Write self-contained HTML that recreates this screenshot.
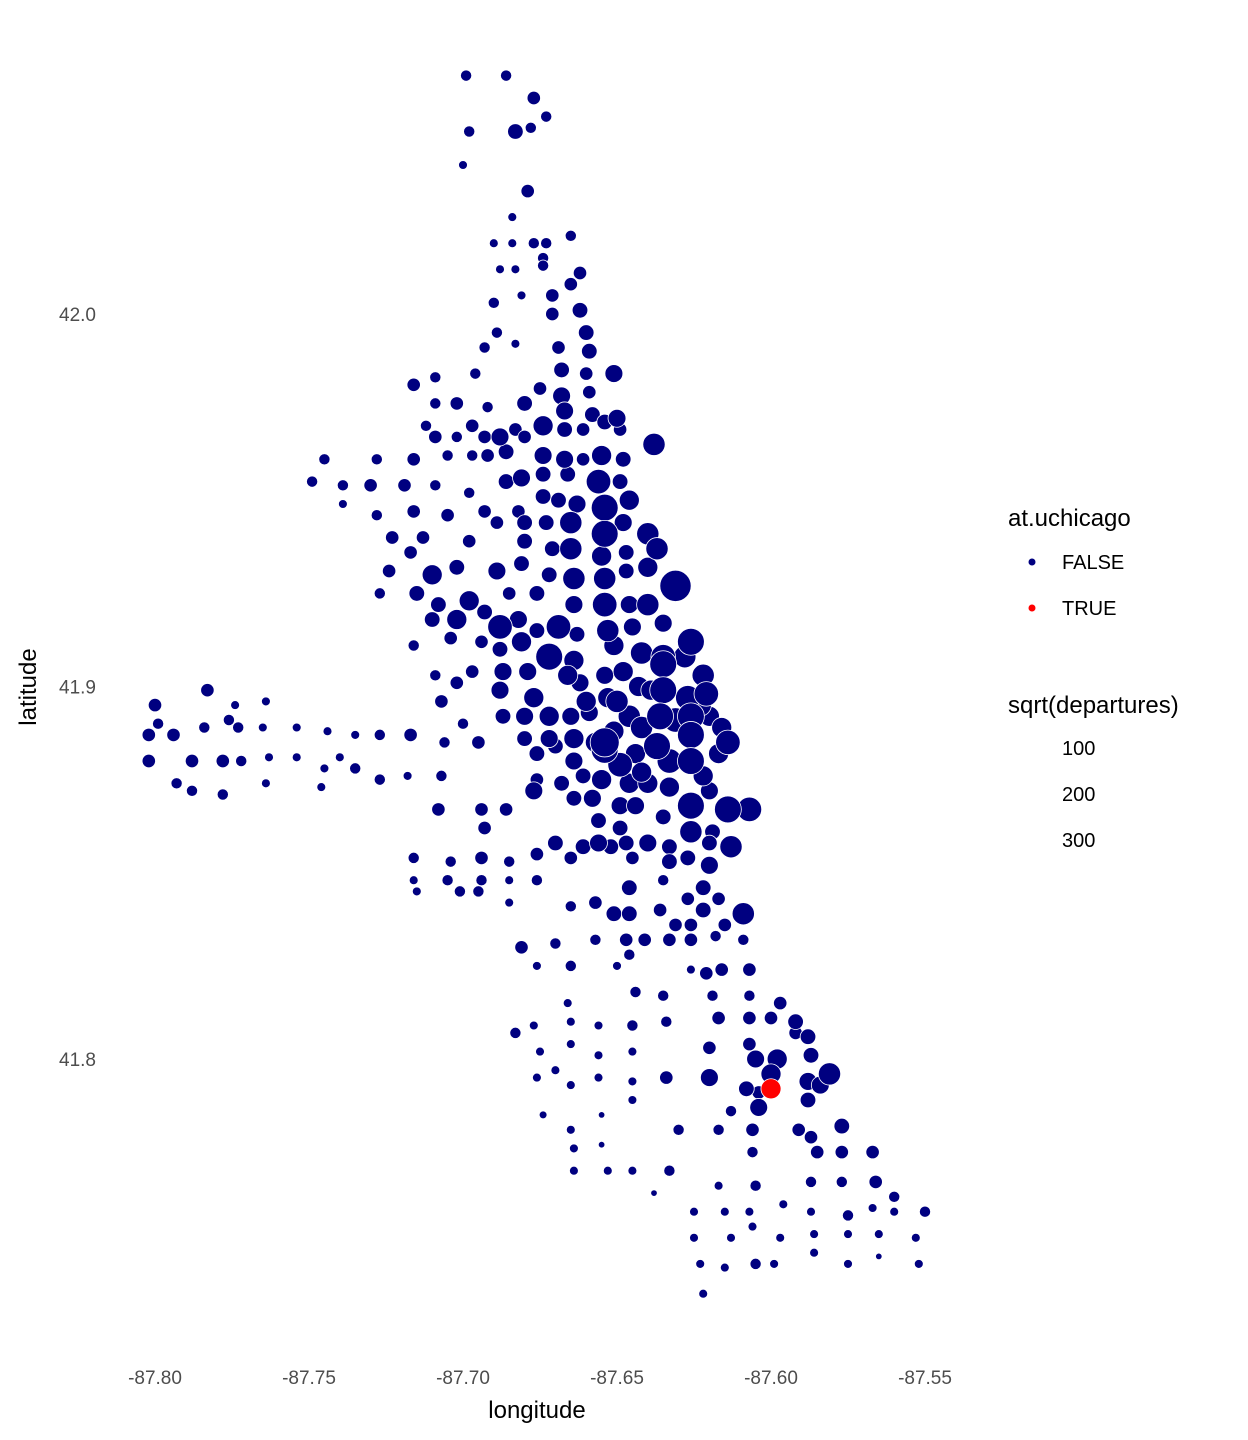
<!DOCTYPE html>
<html><head><meta charset="utf-8">
<style>
html,body{margin:0;padding:0;background:#fff;}
svg{display:block;font-family:"Liberation Sans",Arial,sans-serif;}
</style></head>
<body>
<svg id="chart" width="1248" height="1440" viewBox="0 0 1248 1440" xmlns="http://www.w3.org/2000/svg">
<g id="points"></g>
<g id="xticks"></g>
<g id="yticks"></g>
<text x="537" y="1418" font-size="24" text-anchor="middle" fill="#000">longitude</text>
<text transform="translate(36,687) rotate(-90)" font-size="24" text-anchor="middle" fill="#000">latitude</text>
<g>
<text x="1008" y="526" font-size="24">at.uchicago</text>
<circle cx="1032" cy="562" r="3.5" fill="#000080"/>
<text x="1062" y="569" font-size="20">FALSE</text>
<circle cx="1032" cy="608" r="3.5" fill="#ff0000"/>
<text x="1062" y="615" font-size="20">TRUE</text>
<text x="1008" y="713" font-size="24">sqrt(departures)</text>
<text x="1062" y="755" font-size="20">100</text>
<text x="1062" y="801" font-size="20">200</text>
<text x="1062" y="847" font-size="20">300</text>
</g>
</svg>
<script>
const xTicks = [-87.80, -87.75, -87.70, -87.65, -87.60, -87.55];
const yTicks = [42.0, 41.9, 41.8];
const redStation = [-87.600, 41.792, 112];
const stations = [
[-87.699,42.064,35],[-87.686,42.064,35],[-87.677,42.058,50],[-87.673,42.053,35],[-87.678,42.050,35],[-87.683,42.049,68],[-87.698,42.049,35],[-87.700,42.040,22],[-87.679,42.033,50],[-87.684,42.026,22],
[-87.665,42.021,35],[-87.673,42.019,35],[-87.690,42.019,22],[-87.684,42.019,22],[-87.677,42.019,35],[-87.674,42.015,35],[-87.688,42.012,22],[-87.683,42.012,22],[-87.674,42.013,35],[-87.662,42.011,50],
[-87.665,42.008,50],[-87.671,42.005,50],[-87.690,42.003,35],[-87.681,42.005,22],[-87.662,42.001,68],[-87.671,42.000,50],[-87.689,41.995,35],[-87.660,41.995,68],[-87.669,41.991,50],[-87.693,41.991,35],
[-87.683,41.992,22],[-87.659,41.990,68],[-87.696,41.984,35],[-87.668,41.985,68],[-87.651,41.984,89],[-87.716,41.981,50],[-87.709,41.983,35],[-87.660,41.984,50],[-87.675,41.980,50],[-87.668,41.978,89],
[-87.659,41.979,50],[-87.709,41.976,35],[-87.702,41.976,50],[-87.692,41.975,35],[-87.680,41.976,68],[-87.667,41.974,89],[-87.658,41.973,68],[-87.650,41.972,89],[-87.712,41.970,35],[-87.709,41.967,50],
[-87.702,41.967,35],[-87.697,41.970,50],[-87.693,41.967,50],[-87.688,41.967,89],[-87.683,41.969,50],[-87.680,41.967,50],[-87.674,41.970,112],[-87.667,41.969,68],[-87.661,41.969,50],[-87.654,41.971,68],
[-87.649,41.969,50],[-87.638,41.965,138],[-87.745,41.961,35],[-87.728,41.961,35],[-87.716,41.961,50],[-87.705,41.962,35],[-87.697,41.962,35],[-87.692,41.962,50],[-87.686,41.963,68],[-87.674,41.962,89],
[-87.667,41.961,89],[-87.661,41.961,50],[-87.655,41.962,112],[-87.648,41.961,68],[-87.749,41.955,35],[-87.739,41.954,35],[-87.730,41.954,50],[-87.719,41.954,50],[-87.709,41.954,35],[-87.698,41.952,35],
[-87.686,41.955,68],[-87.681,41.956,89],[-87.674,41.957,68],[-87.666,41.957,68],[-87.656,41.955,167],[-87.649,41.955,68],[-87.739,41.949,22],[-87.728,41.946,35],[-87.716,41.947,50],[-87.705,41.946,50],
[-87.693,41.947,50],[-87.682,41.947,50],[-87.674,41.951,68],[-87.669,41.950,68],[-87.663,41.949,89],[-87.654,41.948,200],[-87.646,41.950,112],[-87.723,41.940,50],[-87.713,41.940,50],[-87.689,41.944,50],
[-87.680,41.944,68],[-87.673,41.944,68],[-87.665,41.944,138],[-87.654,41.941,200],[-87.648,41.944,89],[-87.640,41.941,138],[-87.717,41.936,50],[-87.698,41.939,50],[-87.680,41.939,68],[-87.671,41.937,68],
[-87.665,41.937,138],[-87.655,41.935,112],[-87.647,41.936,68],[-87.637,41.937,138],[-87.724,41.931,50],[-87.710,41.930,112],[-87.702,41.932,68],[-87.689,41.931,89],[-87.681,41.933,68],[-87.672,41.930,68],
[-87.664,41.929,138],[-87.654,41.929,138],[-87.647,41.931,68],[-87.640,41.932,112],[-87.631,41.927,271],[-87.727,41.925,35],[-87.715,41.925,68],[-87.708,41.922,68],[-87.698,41.923,112],[-87.685,41.925,50],
[-87.676,41.925,68],[-87.664,41.922,89],[-87.654,41.922,167],[-87.646,41.922,89],[-87.640,41.922,138],[-87.710,41.918,68],[-87.702,41.918,112],[-87.693,41.920,68],[-87.688,41.916,167],[-87.682,41.918,89],
[-87.676,41.915,68],[-87.669,41.916,167],[-87.663,41.914,68],[-87.653,41.915,138],[-87.645,41.916,89],[-87.635,41.917,89],[-87.626,41.912,200],[-87.716,41.911,35],[-87.704,41.913,50],[-87.694,41.912,50],
[-87.688,41.910,68],[-87.681,41.912,112],[-87.672,41.908,200],[-87.664,41.907,112],[-87.651,41.911,112],[-87.642,41.909,138],[-87.635,41.908,167],[-87.628,41.908,138],[-87.709,41.903,35],[-87.697,41.904,50],
[-87.687,41.904,89],[-87.679,41.904,89],[-87.666,41.903,112],[-87.654,41.903,89],[-87.643,41.900,112],[-87.635,41.906,200],[-87.622,41.903,138],[-87.783,41.899,50],[-87.800,41.895,50],[-87.774,41.895,22],
[-87.764,41.896,22],[-87.702,41.901,50],[-87.688,41.899,89],[-87.677,41.897,112],[-87.662,41.901,89],[-87.653,41.897,112],[-87.635,41.899,200],[-87.627,41.897,167],[-87.621,41.898,167],[-87.707,41.896,50],
[-87.687,41.892,68],[-87.680,41.892,89],[-87.672,41.892,112],[-87.665,41.892,89],[-87.659,41.893,89],[-87.646,41.892,138],[-87.636,41.892,200],[-87.626,41.892,200],[-87.620,41.892,112],[-87.799,41.890,35],
[-87.776,41.891,35],[-87.784,41.889,35],[-87.773,41.889,35],[-87.754,41.889,22],[-87.765,41.889,22],[-87.744,41.888,22],[-87.700,41.890,35],[-87.680,41.886,68],[-87.672,41.886,89],[-87.664,41.886,112],
[-87.654,41.885,234],[-87.637,41.884,200],[-87.626,41.887,200],[-87.614,41.885,167],[-87.802,41.887,50],[-87.794,41.887,50],[-87.735,41.887,22],[-87.727,41.887,35],[-87.717,41.887,50],[-87.706,41.885,35],
[-87.695,41.885,50],[-87.676,41.882,68],[-87.670,41.884,68],[-87.664,41.880,89],[-87.654,41.883,200],[-87.649,41.879,167],[-87.644,41.882,112],[-87.633,41.880,167],[-87.626,41.880,200],[-87.617,41.882,112],
[-87.802,41.880,50],[-87.788,41.880,50],[-87.778,41.880,50],[-87.772,41.880,35],[-87.763,41.881,22],[-87.754,41.881,22],[-87.745,41.878,22],[-87.740,41.881,22],[-87.735,41.878,35],[-87.727,41.875,35],
[-87.718,41.876,22],[-87.707,41.876,35],[-87.676,41.875,50],[-87.668,41.874,68],[-87.661,41.876,68],[-87.655,41.875,112],[-87.646,41.874,112],[-87.640,41.874,112],[-87.633,41.873,112],[-87.620,41.872,89],
[-87.793,41.874,35],[-87.788,41.872,35],[-87.778,41.871,35],[-87.764,41.874,22],[-87.746,41.873,22],[-87.677,41.872,89],[-87.664,41.870,68],[-87.658,41.870,89],[-87.649,41.868,89],[-87.644,41.868,89],
[-87.626,41.868,200],[-87.614,41.867,200],[-87.607,41.867,167],[-87.708,41.867,50],[-87.694,41.867,50],[-87.686,41.867,50],[-87.656,41.864,68],[-87.649,41.862,68],[-87.635,41.865,68],[-87.693,41.862,50],
[-87.626,41.861,138],[-87.619,41.861,68],[-87.670,41.858,68],[-87.661,41.857,68],[-87.656,41.858,89],[-87.652,41.857,68],[-87.647,41.858,68],[-87.640,41.858,89],[-87.633,41.857,68],[-87.620,41.858,68],
[-87.613,41.857,138],[-87.676,41.855,50],[-87.665,41.854,50],[-87.716,41.854,35],[-87.704,41.853,35],[-87.694,41.854,50],[-87.685,41.853,35],[-87.645,41.854,50],[-87.633,41.853,68],[-87.627,41.854,68],
[-87.620,41.852,89],[-87.716,41.848,22],[-87.705,41.848,35],[-87.694,41.848,35],[-87.685,41.848,22],[-87.676,41.848,35],[-87.646,41.846,68],[-87.635,41.848,35],[-87.715,41.845,22],[-87.701,41.845,35],
[-87.695,41.845,35],[-87.622,41.846,68],[-87.685,41.842,22],[-87.657,41.842,50],[-87.627,41.843,50],[-87.617,41.843,50],[-87.665,41.841,35],[-87.651,41.839,68],[-87.646,41.839,68],[-87.636,41.840,50],
[-87.622,41.840,68],[-87.609,41.839,138],[-87.631,41.836,50],[-87.626,41.836,50],[-87.615,41.836,50],[-87.657,41.832,35],[-87.647,41.832,50],[-87.641,41.832,50],[-87.633,41.832,50],[-87.626,41.832,50],
[-87.618,41.833,35],[-87.609,41.832,35],[-87.681,41.830,50],[-87.670,41.831,35],[-87.646,41.828,35],[-87.676,41.825,22],[-87.665,41.825,35],[-87.650,41.825,22],[-87.626,41.824,22],[-87.621,41.823,50],
[-87.616,41.824,50],[-87.607,41.824,50],[-87.644,41.818,35],[-87.635,41.817,35],[-87.619,41.817,35],[-87.607,41.817,35],[-87.666,41.815,22],[-87.597,41.815,50],[-87.677,41.809,22],[-87.665,41.810,22],
[-87.656,41.809,22],[-87.645,41.809,35],[-87.634,41.810,35],[-87.617,41.811,50],[-87.607,41.811,50],[-87.600,41.811,50],[-87.592,41.810,68],[-87.683,41.807,35],[-87.592,41.807,50],[-87.588,41.806,68],
[-87.665,41.804,22],[-87.607,41.804,50],[-87.675,41.802,22],[-87.656,41.801,22],[-87.645,41.802,22],[-87.620,41.803,50],[-87.605,41.800,89],[-87.598,41.800,112],[-87.587,41.801,68],[-87.670,41.797,22],
[-87.676,41.795,22],[-87.634,41.795,50],[-87.620,41.795,89],[-87.600,41.796,112],[-87.588,41.794,89],[-87.581,41.796,138],[-87.584,41.793,89],[-87.665,41.793,22],[-87.656,41.795,22],[-87.645,41.794,22],
[-87.608,41.792,68],[-87.604,41.791,50],[-87.588,41.789,68],[-87.645,41.789,22],[-87.604,41.787,89],[-87.613,41.786,35],[-87.674,41.785,17],[-87.655,41.785,12],[-87.665,41.781,22],[-87.630,41.781,35],
[-87.617,41.781,35],[-87.606,41.781,50],[-87.591,41.781,50],[-87.587,41.779,50],[-87.577,41.782,68],[-87.655,41.777,12],[-87.664,41.776,22],[-87.606,41.775,35],[-87.585,41.775,50],[-87.577,41.775,50],
[-87.567,41.775,50],[-87.664,41.770,22],[-87.653,41.770,22],[-87.645,41.770,22],[-87.633,41.770,35],[-87.617,41.766,22],[-87.605,41.766,35],[-87.587,41.767,35],[-87.577,41.767,35],[-87.566,41.767,50],
[-87.638,41.764,12],[-87.560,41.763,35],[-87.596,41.761,22],[-87.625,41.759,22],[-87.615,41.759,22],[-87.607,41.759,22],[-87.587,41.759,22],[-87.575,41.758,35],[-87.567,41.760,22],[-87.560,41.759,22],
[-87.550,41.759,35],[-87.606,41.755,22],[-87.625,41.752,22],[-87.613,41.752,22],[-87.597,41.752,22],[-87.586,41.753,22],[-87.575,41.753,22],[-87.565,41.753,22],[-87.553,41.752,22],[-87.586,41.748,22],
[-87.565,41.747,12],[-87.605,41.745,35],[-87.599,41.745,22],[-87.623,41.745,22],[-87.615,41.744,22],[-87.575,41.745,22],[-87.552,41.745,22],[-87.622,41.737,22],
[-87.657,41.885,112],[-87.651,41.888,112],[-87.642,41.889,138],[-87.631,41.891,167],[-87.623,41.895,138],[-87.616,41.889,112],[-87.642,41.877,112],[-87.622,41.876,112],[-87.648,41.904,112],[-87.639,41.899,112],
[-87.660,41.896,112],[-87.650,41.896,138]
];
const lons = stations.map(s => s[0]);
const lats = stations.map(s => s[1]);
const sqrtDeps = stations.map(s => s[2]);

const NS = "http://www.w3.org/2000/svg";
function xScale(lon){ return 155 + (lon + 87.80) * 3080; }
function yScale(lat){ return 314 + (42.0 - lat) * 3725; }
function rScale(v){ return 0.95 * Math.sqrt(v); }

const gp = document.getElementById('points');
function addPoint(lon, lat, v, color, name){
  const c = document.createElementNS(NS, 'circle');
  c.setAttribute('cx', xScale(lon).toFixed(1));
  c.setAttribute('cy', yScale(lat).toFixed(1));
  c.setAttribute('r', rScale(v).toFixed(2));
  c.setAttribute('fill', color);
  c.setAttribute('stroke', '#fff');
  c.setAttribute('stroke-width', '0.8');
  
  
  gp.appendChild(c);
}
const order = lons.map((_, i) => i).sort((a, b) => sqrtDeps[a] - sqrtDeps[b]);
order.forEach(i => addPoint(lons[i], lats[i], sqrtDeps[i], '#000080', 'station-point'));
addPoint(redStation[0], redStation[1], redStation[2], '#ff0000', 'uchicago-station-point');

const gx = document.getElementById('xticks');
xTicks.forEach(t => {
  const tx = document.createElementNS(NS, 'text');
  tx.setAttribute('x', xScale(t));
  tx.setAttribute('y', 1384);
  tx.setAttribute('font-size', '19');
  tx.setAttribute('fill', '#4d4d4d');
  tx.setAttribute('text-anchor', 'middle');
  tx.textContent = t.toFixed(2);
  
  
  gx.appendChild(tx);
});
const gy = document.getElementById('yticks');
yTicks.forEach(t => {
  const ty = document.createElementNS(NS, 'text');
  ty.setAttribute('x', 96);
  ty.setAttribute('y', yScale(t) + 7);
  ty.setAttribute('font-size', '19');
  ty.setAttribute('fill', '#4d4d4d');
  ty.setAttribute('text-anchor', 'end');
  ty.textContent = t.toFixed(1);
  
  
  gy.appendChild(ty);
});
</script>
</body></html>
